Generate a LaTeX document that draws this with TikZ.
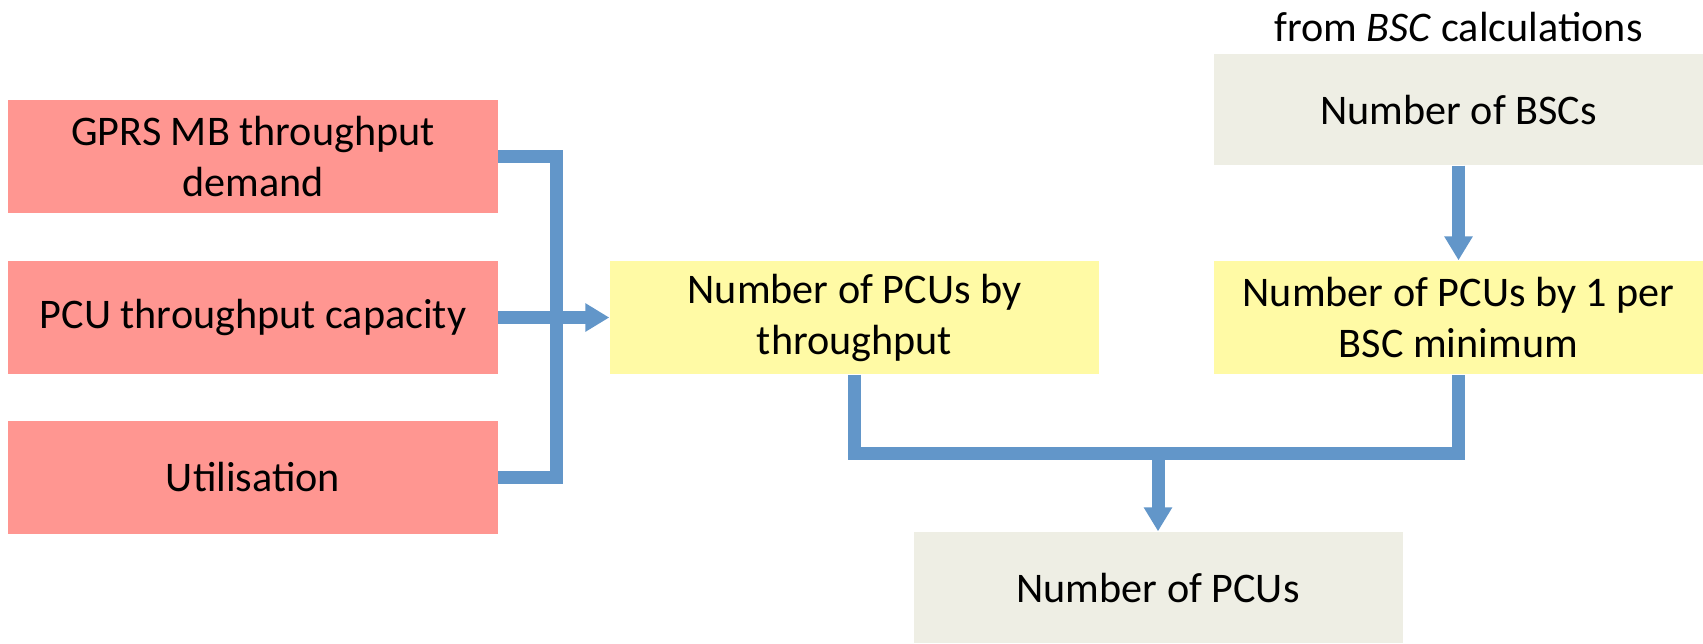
\documentclass[tikz,border=0pt]{standalone}
\usepackage{fontspec}
\setmainfont{Carlito}
\usepackage{tikz}
\usetikzlibrary{arrows.meta,positioning,calc}
\definecolor{inputred}{RGB}{255, 150, 145}
\definecolor{calcyellow}{RGB}{255, 250, 165}
\definecolor{resultgrey}{RGB}{238, 238, 228}
\definecolor{wireblue}{RGB}{98, 150, 201}

\begin{document}
\begin{tikzpicture}[
    box/.style={rectangle, minimum width=4.89cm, minimum height=1.13cm, align=center, inner sep=2pt, font=\fontsize{12}{14.5}\selectfont},
    input/.style={box, fill=inputred},
    calc/.style={box, fill=calcyellow},
    result/.style={box, fill=resultgrey, minimum height=1.11cm},
    wire/.style={draw=wireblue, line width=3.7pt, line join=miter},
    arrow/.style={wire, -{Triangle[width=0.27cm, length=0.24cm]}}
]
\useasboundingbox (0,0) rectangle (17.03,-6.43);

% Inputs - left column
\node[input] (gprs) at (2.53,-1.565) {GPRS MB throughput\\demand};
\node[input] (pcucap) at (2.53,-3.175) {PCU throughput capacity};
\node[input] (util) at (2.53,-4.77) {Utilisation};

% Intermediate results
\node[calc] (bythru) at (8.545,-3.175) {Number of PCUs by\\throughput};
\node[calc] (bybsc) at (14.585,-3.175) {Number of PCUs by 1 per\\BSC minimum};

% External input and final result
\node[result] (nbsc) at (14.585,-1.095) {Number of BSCs};
\node[font=\fontsize{12}{14.5}\selectfont] (src) at (14.585,-0.27) {from \textit{BSC} calculations};
\node[result] (npcu) at (11.58,-5.875) {Number of PCUs};

% Connectors
\coordinate (bus) at (5.56,0);
\coordinate (join) at (11.58,-4.53);
\draw[wire] (gprs.east) -| (bus |- util.east) -- (util.east);
\draw[arrow] (pcucap.east) -- (bythru.west);
\draw[arrow] (nbsc.south) -- (bybsc.north);
\draw[wire] (bythru.south) |- (join) -| (bybsc.south);
\draw[arrow] (join) -- (npcu.north);

\end{tikzpicture}
\end{document}
